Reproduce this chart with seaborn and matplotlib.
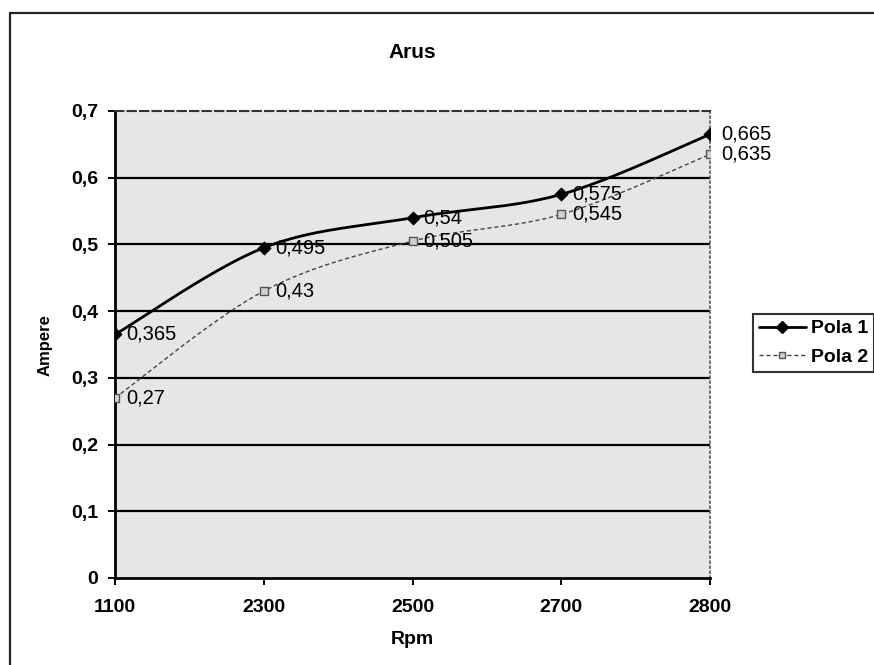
import numpy as np
import pandas as pd
import seaborn as sns
import matplotlib
matplotlib.use("Agg")
import matplotlib.pyplot as plt
from matplotlib.lines import Line2D

# Current (Ampere) measured at each engine speed
rpm = ["1100", "2300", "2500", "2700", "2800"]
pola1 = [0.365, 0.495, 0.54, 0.575, 0.665]
pola2 = [0.27, 0.43, 0.505, 0.545, 0.635]
series_names = ["Pola 1", "Pola 2"]
y_ticks = [0, 0.1, 0.2, 0.3, 0.4, 0.5, 0.6, 0.7]

FONT = "Liberation Sans"
sns.set_theme(style="white")
plt.rcParams["font.family"] = [FONT, "DejaVu Sans"]
plt.rcParams["text.color"] = "black"
plt.rcParams["xtick.color"] = "black"
plt.rcParams["ytick.color"] = "black"

W, H = 874, 665
fig = plt.figure(figsize=(W / 100, H / 100), dpi=100)
fig.patch.set_facecolor("white")

# plot area in pixel terms
L, R, T, B = 115, 710, 111, 578
ax = fig.add_axes([L / W, (H - B) / H, (R - L) / W, (B - T) / H])
ax.set_facecolor("#e6e6e6")

xi = np.arange(len(rpm))
XS, YS = (R - L) / (len(rpm) - 1), (B - T) / 0.7


def smooth(vals, n=60):
    """Bezier smoothing through the points (Catmull-Rom style tangents)."""
    pts = np.column_stack([xi * XS, np.asarray(vals) * YS])
    padded = np.vstack([pts[0], pts, pts[-1]])
    xs, ys = [], []
    for i in range(len(pts) - 1):
        p0, p1, p2, p3 = padded[i:i + 4]
        c1 = p1 + (p2 - p0) / 6
        c2 = p2 - (p3 - p1) / 6
        t = np.linspace(0, 1, n)[:, None]
        b = ((1 - t) ** 3) * p1 + 3 * ((1 - t) ** 2) * t * c1 \
            + 3 * (1 - t) * t ** 2 * c2 + t ** 3 * p2
        xs.append(b[:, 0])
        ys.append(b[:, 1])
    return np.concatenate(xs) / XS, np.concatenate(ys) / YS


# horizontal gridlines
for v in y_ticks[1:-1]:
    ax.axhline(v, color="black", lw=1.6, zorder=1)

# Pola 2 (dashed, open square markers)
sx2, sy2 = smooth(pola2)
sns.lineplot(x=sx2, y=sy2, ax=ax, sort=False, estimator=None,
             color="#444444", lw=1.0, linestyle=(0, (3, 2)), zorder=3)
sns.scatterplot(x=xi, y=pola2, ax=ax, marker="s", s=30,
                facecolor="#d0d0d0", edgecolor="#555555", linewidth=1.0, zorder=4)

# Pola 1 (solid, diamond markers)
sx1, sy1 = smooth(pola1)
sns.lineplot(x=sx1, y=sy1, ax=ax, sort=False, estimator=None,
             color="black", lw=2.0, zorder=5)
sns.scatterplot(x=xi, y=pola1, ax=ax, marker="D", s=45,
                color="black", edgecolor="black", zorder=6)

# value labels to the right of each point
for vals in (pola1, pola2):
    for x, v in zip(xi, vals):
        ax.annotate(f"{v:g}".replace(".", ","), (x, v), xytext=(8, 0),
                    textcoords="offset points", ha="left", va="center",
                    fontsize=14.5, color="black", zorder=7, clip_on=False)

ax.set_xlim(0, len(rpm) - 1)
ax.set_ylim(0, 0.7)
ax.set_xticks(xi)
ax.set_xticklabels(rpm)
ax.set_yticks(y_ticks)
ax.set_yticklabels([f"{v:g}".replace(".", ",") for v in y_ticks])
ax.tick_params(axis="both", direction="out", length=5, width=1.4,
               colors="black", labelsize=14)
ax.tick_params(axis="y", pad=7)
ax.tick_params(axis="x", pad=10)
ax.xaxis.set_ticks_position("bottom")
ax.yaxis.set_ticks_position("left")
for lab in ax.get_xticklabels() + ax.get_yticklabels():
    lab.set_fontweight("bold")

for side in ("left", "bottom"):
    ax.spines[side].set_color("black")
    ax.spines[side].set_linewidth(2.0)
ax.spines["top"].set_color("#333333")
ax.spines["top"].set_linewidth(1.5)
ax.spines["top"].set_linestyle((0, (4, 2)))
ax.spines["right"].set_color("#555555")
ax.spines["right"].set_linewidth(1.2)
ax.spines["right"].set_linestyle((0, (1, 2)))

ax.set_xlabel("")
ax.set_ylabel("")
fig.text((L + R) / 2 / W, 1 - 52 / H, "Arus", ha="center", va="center",
         fontsize=15, fontweight="bold", color="black")
fig.text((L + R) / 2 / W, 1 - 639 / H, "Rpm", ha="center", va="center",
         fontsize=14, fontweight="bold", color="black")
fig.text(45 / W, 1 - 345 / H, "Ampere", ha="center", va="center",
         rotation=90, fontsize=12, fontweight="bold", color="black")

# legend outside the plot area
handles = [
    Line2D([], [], color="black", lw=2.0, marker="D", markersize=6),
    Line2D([], [], color="#444444", lw=1.0, linestyle=(0, (3, 2)), marker="s",
           markersize=5, markerfacecolor="#d0d0d0", markeredgecolor="#555555"),
]
leg = fig.legend(handles, series_names, loc="upper left",
                 bbox_to_anchor=(753 / W, 1 - 314 / H), frameon=True,
                 fancybox=False, borderaxespad=0, handlelength=2.4,
                 handletextpad=0.3, borderpad=0.3, labelspacing=0.55,
                 prop={"family": FONT, "size": 14, "weight": "bold"})
leg.get_frame().set_edgecolor("black")
leg.get_frame().set_linewidth(1.5)
for txt in leg.get_texts():
    txt.set_color("black")

# outer chart border
fig.add_artist(Line2D([10 / W, 1.0], [1 - 13 / H, 1 - 13 / H],
                      color="#222222", lw=1.6, transform=fig.transFigure))
fig.add_artist(Line2D([10 / W, 10 / W], [1 - 13 / H, 0.0],
                      color="#222222", lw=1.6, transform=fig.transFigure))

fig.savefig("out.png", dpi=100)
